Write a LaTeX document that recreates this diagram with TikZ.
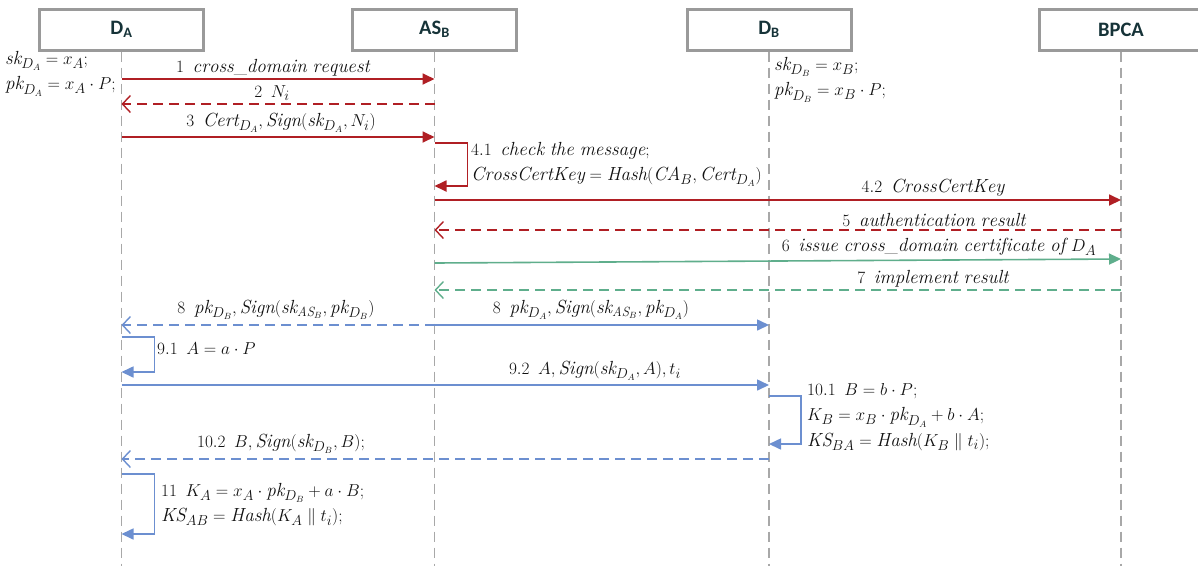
\documentclass[tikz,border=0pt]{standalone}
\usepackage{fontspec}
\newfontfamily\headfont{Carlito}
\usetikzlibrary{arrows.meta}
\definecolor{myred}{HTML}{B01F24}
\definecolor{mygreen}{HTML}{5FAE8C}
\definecolor{myblue}{HTML}{6C8FD0}
\definecolor{headcol}{HTML}{163338}
\definecolor{boxgray}{HTML}{9A9A9A}
\definecolor{lifegray}{HTML}{A8A8A8}
\definecolor{txtcol}{HTML}{111111}
\newcommand\gp{\ \,}
\tikzset{
  head/.style={draw=boxgray, line width=3pt, minimum width=164pt, minimum height=41pt,
    font=\headfont\bfseries\fontsize{20.5}{24}\selectfont, text=headcol, inner sep=0pt},
  life/.style={draw=lifegray, line width=1.3pt, dash pattern=on 10pt off 6pt},
  solidtip/.style={-{Triangle[length=12pt,width=11pt]}},
  opentip/.style={-{Straight Barb[length=8pt,width=17pt,line width=1.4pt]}},
  redmsg/.style={draw=myred, line width=1.8pt, solidtip},
  redret/.style={draw=myred, line width=1.8pt, dash pattern=on 10pt off 6pt, opentip},
  grnmsg/.style={draw=mygreen, line width=1.6pt, solidtip},
  grnret/.style={draw=mygreen, line width=1.6pt, dash pattern=on 10pt off 6pt, opentip},
  blumsg/.style={draw=myblue, line width=1.6pt, solidtip},
  bluret/.style={draw=myblue, line width=1.6pt, dash pattern=on 10pt off 6pt, opentip},
  lbl/.style={font=\fontsize{19}{25.5}\selectfont, text=txtcol, inner sep=1pt, anchor=south},
  note/.style={font=\fontsize{19}{25.5}\selectfont, text=txtcol, inner sep=1pt, anchor=north west, align=left},
}
\begin{document}
\begin{tikzpicture}[x=1pt,y=-1pt]
\useasboundingbox (0,0) rectangle (1198,566);
% heads
\node[head] (DA) at (121.5,29.5) {D\textsubscript{A}};
\node[head] (ASB) at (434.5,29.5) {AS\textsubscript{B}};
\node[head] (DB) at (769,29.5) {D\textsubscript{B}};
\node[head] (BPCA) at (1121,29.5) {BPCA};
% lifelines
\coordinate (DAe) at (DA |- 0,566);
\coordinate (ASBe) at (ASB |- 0,566);
\coordinate (DBe) at (DB |- 0,566);
\coordinate (BPCAe) at (BPCA |- 0,566);
\draw[life] (DA.south) -- (DAe);
\draw[life] (ASB.south) -- (ASBe);
\draw[life] (DB.south) -- (DBe);
\draw[life] (BPCA.south) -- (BPCAe);
% key annotations
\node[note] (kA) at (4,50) {$\mathit{sk}_{D_A}=x_A;$\\$\mathit{pk}_{D_A}=x_A\cdot P;$};
\node[note] (kB) at (773,56) {$\mathit{sk}_{D_B}=x_B;$\\$\mathit{pk}_{D_B}=x_B\cdot P;$};
% 1
\draw[redmsg] (DA |- 0,79) -- (ASB |- 0,79);
\node[lbl] (l1) at (273,77) {$1\gp\mathit{cross\_domain\ request}$};
% 2
\draw[redret] (ASB |- 0,104) -- (DA |- 0,104);
\node[lbl] (l2) at (272,102) {$2\gp N_i$};
% 3
\draw[redmsg] (DA |- 0,137) -- (ASB |- 0,137);
\node[lbl] (l3) at (281,134) {$3\gp\mathit{Cert}_{D_A},\mathit{Sign}(\mathit{sk}_{D_A},N_i)$};
% 4.1
\draw[redmsg] (ASB |- 0,143) -- ++(33,0) |- (ASB |- 0,186);
\node[note] (l41) at (470,141) {$4.1\gp\mathit{check\ the\ message};$\\$\mathit{CrossCertKey}=\mathit{Hash}(\mathit{CA}_B,\mathit{Cert}_{D_A})$};
% 4.2
\draw[redmsg] (ASB |- 0,200) -- (BPCA |- 0,200);
\node[lbl] (l42) at (933,198) {$4.2\gp\mathit{CrossCertKey}$};
% 5
\draw[redret] (BPCA |- 0,230) -- (ASB |- 0,230);
\node[lbl] (l5) at (934,228) {$5\gp\mathit{authentication\ result}$};
% 6
\draw[grnmsg] (ASB |- 0,263) -- (BPCA |- 0,259);
\node[lbl] (l6) at (939,257) {$6\gp\mathit{issue\ cross\_domain\ certificate\ of}\ D_A$};
% 7
\draw[grnret] (BPCA |- 0,290) -- (ASB |- 0,290);
\node[lbl] (l7) at (933,288) {$7\gp\mathit{implement\ result}$};
% 8
\draw[bluret] (ASB |- 0,325) -- (DA |- 0,325);
\node[lbl] (l8a) at (276,321) {$8\gp\mathit{pk}_{D_B},\mathit{Sign}(\mathit{sk}_{\mathit{AS}_B},\mathit{pk}_{D_B})$};
\draw[blumsg] (ASB |- 0,325) -- (DB |- 0,325);
\node[lbl] (l8b) at (591,321) {$8\gp\mathit{pk}_{D_A},\mathit{Sign}(\mathit{sk}_{\mathit{AS}_B},\mathit{pk}_{D_A})$};
% 9.1
\draw[blumsg] (DA |- 0,337) -- ++(33,0) |- (DA |- 0,372);
\node[note] (l91) at (156,341) {$9.1\gp A=a\cdot P$};
% 9.2
\draw[blumsg] (DA |- 0,385) -- (DB |- 0,385);
\node[lbl] (l92) at (595,382) {$9.2\gp A,\mathit{Sign}\bigl(\mathit{sk}_{D_A},A\bigr),t_i$};
% 10.1
\draw[blumsg] (DB |- 0,396) -- ++(32,0) |- (DB |- 0,444);
\node[note] (l101) at (806,382) {$10.1\gp B=b\cdot P;$\\$K_B=x_B\cdot\mathit{pk}_{D_A}+b\cdot A;$\\$\mathit{KS}_{BA}=\mathit{Hash}(K_B\parallel t_i);$};
% 10.2
\draw[bluret] (DB |- 0,459) -- (DA |- 0,459);
\node[lbl] (l102) at (281,455) {$10.2\gp B,\mathit{Sign}\bigl(\mathit{sk}_{D_B},B\bigr);$};
% 11
\draw[blumsg] (DA |- 0,474) -- ++(33,0) |- (DA |- 0,534);
\node[note] (l11) at (160,482) {$11\gp K_A=x_A\cdot\mathit{pk}_{D_B}+a\cdot B;$\\$\mathit{KS}_{AB}=\mathit{Hash}(K_A\parallel t_i);$};
\end{tikzpicture}
\end{document}
